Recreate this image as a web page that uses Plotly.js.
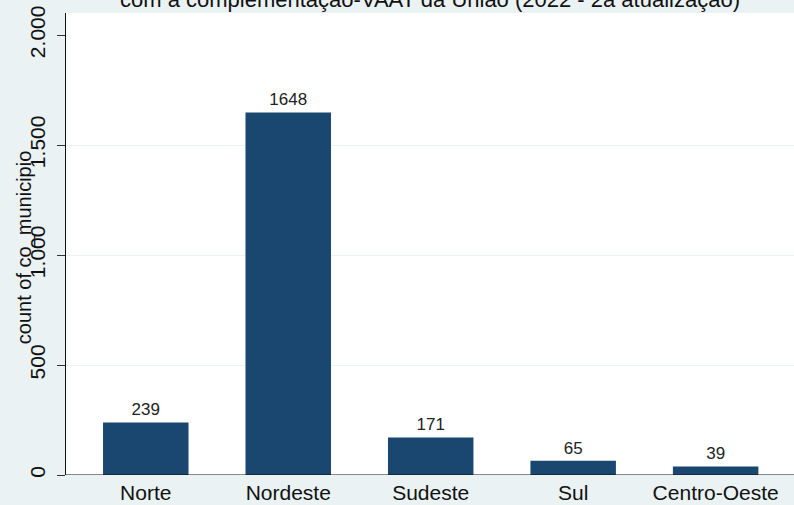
<!DOCTYPE html>
<html>
<head>
<meta charset="utf-8">
<script src="https://cdn.plot.ly/plotly-3.0.1.min.js"></script>
<style>html,body{margin:0;padding:0;background:#EAF2F3;}#chart{width:794px;height:505px;}</style>
</head>
<body>
<div id="chart"></div>
<script>
const regions = ["Norte", "Nordeste", "Sudeste", "Sul", "Centro-Oeste"];
const counts = [239, 1648, 171, 65, 39];
const yTickVals = [0, 500, 1000, 1500, 2000];
const yTickText = ["0", "500", "1.000", "1.500", "2.000"];
const gridVals = [500, 1000, 1500];
const titleText = "com a complementação-VAAT da União (2022 - 2a atualização)";
const yTitle = "count of co_municipio";

const FONT = "Liberation Sans, Arial, sans-serif";

const trace = {
  type: "bar",
  x: regions.map((r, i) => i),
  y: counts,
  width: 0.6,
  marker: {color: "#1A476F", line: {width: 0}},
  text: counts.map(String),
  textposition: "outside",
  cliponaxis: false,
  textfont: {family: FONT, size: 17, color: "#222"},
  hoverinfo: "none"
};

const layout = {
  width: 794, height: 505,
  margin: {l: 66, r: 0, t: 13, b: 30, pad: 0},
  paper_bgcolor: "#EAF2F3",
  plot_bgcolor: "#FFFFFF",
  showlegend: false,
  font: {family: FONT, color: "#111"},
  xaxis: {
    range: [-0.56, 4.55],
    tickvals: regions.map((r, i) => i),
    ticktext: regions,
    ticks: "",
    ticklabelstandoff: 3,
    showgrid: false,
    zeroline: false,
    showline: false,
    tickfont: {family: FONT, size: 21, color: "#111"},
    fixedrange: true
  },
  yaxis: {
    range: [0, 2100],
    tickvals: yTickVals,
    ticktext: yTickText,
    tickangle: -90,
    ticks: "outside",
    ticklen: 8,
    tickwidth: 1,
    tickcolor: "#333",
    ticklabelstandoff: 4,
    showgrid: false,
    zeroline: false,
    showline: true,
    linecolor: "#111",
    linewidth: 1,
    tickfont: {family: FONT, size: 21, color: "#111"},
    fixedrange: true
  },
  yaxis2: {
    overlaying: "y",
    range: [0, 2100],
    tickvals: gridVals,
    showticklabels: false,
    ticks: "",
    showgrid: true,
    gridcolor: "#EAF2F3",
    gridwidth: 1,
    zeroline: false,
    showline: false,
    fixedrange: true
  },
  shapes: [{
    type: "line", xref: "paper", yref: "y", x0: 0, x1: 1, y0: 0, y1: 0,
    line: {color: "#111", width: 1}
  }],
  annotations: [
    {
      text: titleText, xref: "paper", yref: "paper", x: 0.5, y: 1,
      xanchor: "center", yanchor: "bottom", yshift: -1, showarrow: false,
      font: {family: FONT, size: 22, color: "#111"}
    },
    {
      text: yTitle, xref: "paper", yref: "paper", x: 0, y: 0.491,
      xanchor: "center", yanchor: "middle", xshift: -42, textangle: -90, showarrow: false,
      font: {family: FONT, size: 20, color: "#111"}
    }
  ]
};

const grid = {type: "scatter", x: [0], y: [0], yaxis: "y2", mode: "markers", marker: {opacity: 0}, hoverinfo: "none"};

Plotly.newPlot("chart", [grid, trace], layout, {staticPlot: true, displayModeBar: false});
</script>
</body>
</html>
